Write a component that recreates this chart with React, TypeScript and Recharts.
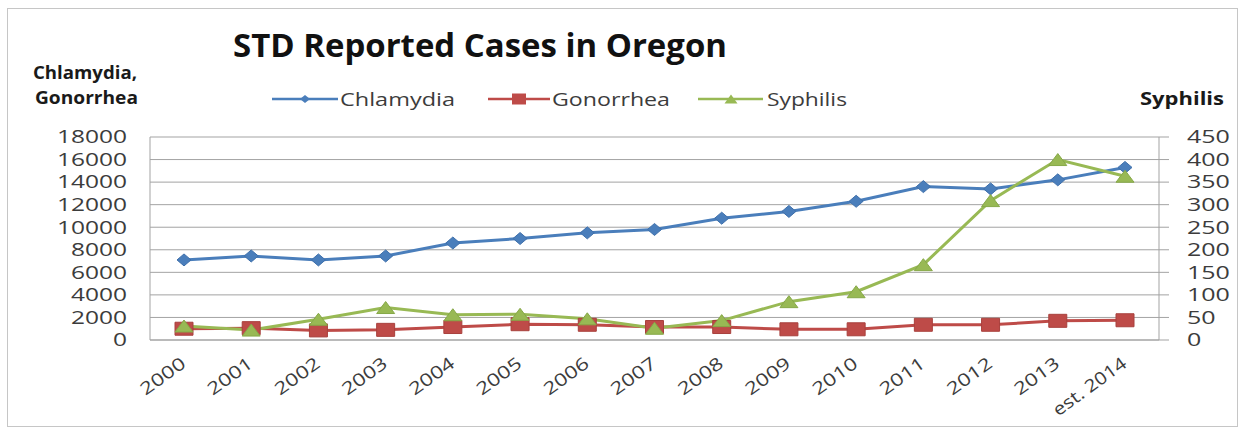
import React from 'react';
import { LineChart, Line, XAxis, YAxis, CartesianGrid } from 'recharts';

const categories = ['2000', '2001', '2002', '2003', '2004', '2005', '2006', '2007', '2008', '2009', '2010', '2011', '2012', '2013', 'est. 2014'];
const chlamydia = [7100, 7450, 7100, 7450, 8600, 9000, 9500, 9800, 10800, 11400, 12300, 13600, 13400, 14200, 15300];
const gonorrhea = [1000, 1050, 850, 900, 1150, 1400, 1350, 1150, 1150, 950, 950, 1350, 1350, 1700, 1750];
const syphilis = [31, 22, 46, 72, 56, 57, 47, 26, 43, 85, 107, 167, 309, 400, 363];
const leftTicks = [0, 2000, 4000, 6000, 8000, 10000, 12000, 14000, 16000, 18000];
const rightTicks = [0, 50, 100, 150, 200, 250, 300, 350, 400, 450];

const data = categories.map((year, i) => ({
  year,
  Chlamydia: chlamydia[i],
  Gonorrhea: gonorrhea[i],
  Syphilis: syphilis[i],
}));

const W = 1243;
const H = 430;
const FONT = '"Open Sans", "DejaVu Sans", sans-serif';
const BLUE = '#4A7EBB';
const RED = '#BE4B48';
const GREEN = '#98B954';
const GRID = '#a3a3a3';
const TEXT = '#3c3c3c';

const charW: Record<string, number> = { e: 10.5, s: 9, t: 6.5, '.': 4.5, ' ': 4.5 };
const xLabelLen = (s: string) => s.split('').reduce((a, c) => a + (charW[c] ?? 12.8), 0);

const YTickLeft = (props: any) => {
  const { x, y, payload } = props;
  const s = String(payload.value);
  return (
    <text x={x} y={y} dy="0.36em" textAnchor="end" fontSize={17.5} fontFamily={FONT} fill={TEXT}
      textLength={s.length * 14} lengthAdjust="spacingAndGlyphs">{s}</text>
  );
};

const YTickRight = (props: any) => {
  const { x, y, payload } = props;
  const s = String(payload.value);
  return (
    <text x={x} y={y} dy="0.36em" textAnchor="start" fontSize={17.5} fontFamily={FONT} fill={TEXT}
      textLength={s.length * 14.3} lengthAdjust="spacingAndGlyphs">{s}</text>
  );
};

const XTick = (props: any) => {
  const { x, y, payload } = props;
  const s = String(payload.value);
  return (
    <text transform={`translate(${x + 3},${y}) rotate(-36)`} textAnchor="end" fontSize={17.5} fontFamily={FONT}
      fill={TEXT} textLength={xLabelLen(s)} lengthAdjust="spacingAndGlyphs">{s}</text>
  );
};

const diamondPath = (cx: number, cy: number, hw: number, hh: number) =>
  `M${cx - hw},${cy}L${cx},${cy - hh}L${cx + hw},${cy}L${cx},${cy + hh}Z`;
const squarePath = (cx: number, cy: number, hw: number, hh: number) =>
  `M${cx - hw},${cy - hh}H${cx + hw}V${cy + hh}H${cx - hw}Z`;
const trianglePath = (cx: number, cy: number, hw: number, hh: number) =>
  `M${cx},${cy - hh}L${cx + hw},${cy + hh}L${cx - hw},${cy + hh}Z`;

const DiamondDot = (p: any) => {
  const { cx, cy, index } = p;
  if (cx == null || cy == null) return <g key={index} />;
  return <path key={index} d={diamondPath(cx, cy, 7, 6)} fill={BLUE} stroke="#3f70ab" strokeWidth={1} />;
};
const SquareDot = (p: any) => {
  const { cx, cy, index } = p;
  if (cx == null || cy == null) return <g key={index} />;
  return <path key={index} d={squarePath(cx, cy, 9, 6.5)} fill={RED} stroke="#a8403d" strokeWidth={1} />;
};
const TriangleDot = (p: any) => {
  const { cx, cy, index } = p;
  if (cx == null || cy == null) return <g key={index} />;
  return <path key={index} d={trianglePath(cx, cy, 9, 6)} fill={GREEN} stroke="#86a848" strokeWidth={1} />;
};

const legendItems = [
  { name: 'Chlamydia', color: BLUE, shape: 'diamond', x1: 272, x2: 338, mx: 305, tx: 340, tl: 115 },
  { name: 'Gonorrhea', color: RED, shape: 'square', x1: 488, x2: 550, mx: 519, tx: 552, tl: 118 },
  { name: 'Syphilis', color: GREEN, shape: 'triangle', x1: 698, x2: 763, mx: 731, tx: 767, tl: 80 },
];

const Overlay = () => (
  <svg width={W} height={H} style={{ position: 'absolute', left: 0, top: 0, pointerEvents: 'none' }}>
    <text x={233} y={57} fontSize={33} fontWeight={700} fontFamily={FONT} fill="#111"
      textLength={494} lengthAdjust="spacingAndGlyphs">STD Reported Cases in Oregon</text>
    <text x={33} y={79} fontSize={17} fontWeight={700} fontFamily={FONT} fill="#1a1a1a"
      textLength={104} lengthAdjust="spacingAndGlyphs">Chlamydia,</text>
    <text x={35} y={104} fontSize={17} fontWeight={700} fontFamily={FONT} fill="#1a1a1a"
      textLength={103} lengthAdjust="spacingAndGlyphs">Gonorrhea</text>
    <text x={1140} y={105} fontSize={17} fontWeight={700} fontFamily={FONT} fill="#1a1a1a"
      textLength={84} lengthAdjust="spacingAndGlyphs">Syphilis</text>
    {legendItems.map((it) => (
      <g key={it.name}>
        <line x1={it.x1} x2={it.x2} y1={99} y2={99} stroke={it.color} strokeWidth={2.5} />
        {it.shape === 'diamond' && <path d={diamondPath(it.mx, 99, 5, 4)} fill={it.color} />}
        {it.shape === 'square' && <path d={squarePath(it.mx, 99, 7, 5.5)} fill={it.color} />}
        {it.shape === 'triangle' && <path d={trianglePath(it.mx, 99, 6.5, 4.5)} fill={it.color} />}
        <text x={it.tx} y={106} fontSize={18} fontFamily={FONT} fill={TEXT}
          textLength={it.tl} lengthAdjust="spacingAndGlyphs">{it.name}</text>
      </g>
    ))}
  </svg>
);

export default function App() {
  return (
    <div style={{ position: 'absolute', left: 0, top: 0, width: W, height: H, background: '#fff' }}>
      <div style={{ position: 'absolute', left: 7, top: 8, width: 1231, height: 419, border: '1px solid #c6c6c6', boxSizing: 'border-box' }} />
      <div style={{ position: 'absolute', left: 0, top: 0 }}>
        <LineChart width={W} height={H} data={data} margin={{ top: 137, right: 24, bottom: 30, left: 50 }}>
          <CartesianGrid yAxisId="left" vertical={false} stroke={GRID} strokeWidth={1} />
          <XAxis dataKey="year" height={60} padding={{ left: 34, right: 34 }} interval={0}
            axisLine={{ stroke: GRID }} tickLine={false} tickSize={0} tickMargin={26} tick={<XTick />} />
          <YAxis yAxisId="left" width={100} domain={[0, 18000]} ticks={leftTicks} interval={0}
            axisLine={{ stroke: GRID }} tickLine={false} tickSize={0} tickMargin={23} tick={<YTickLeft />} />
          <YAxis yAxisId="right" orientation="right" width={60} domain={[0, 450]} ticks={rightTicks} interval={0}
            axisLine={{ stroke: GRID }} tickLine={{ stroke: GRID }} tickSize={10} tickMargin={18} tick={<YTickRight />} />
          <Line yAxisId="left" type="linear" dataKey="Chlamydia" stroke={BLUE} strokeWidth={3}
            dot={DiamondDot} activeDot={false} isAnimationActive={false} />
          <Line yAxisId="left" type="linear" dataKey="Gonorrhea" stroke={RED} strokeWidth={3}
            dot={SquareDot} activeDot={false} isAnimationActive={false} />
          <Line yAxisId="right" type="linear" dataKey="Syphilis" stroke={GREEN} strokeWidth={3}
            dot={TriangleDot} activeDot={false} isAnimationActive={false} />
        </LineChart>
      </div>
      <Overlay />
    </div>
  );
}
